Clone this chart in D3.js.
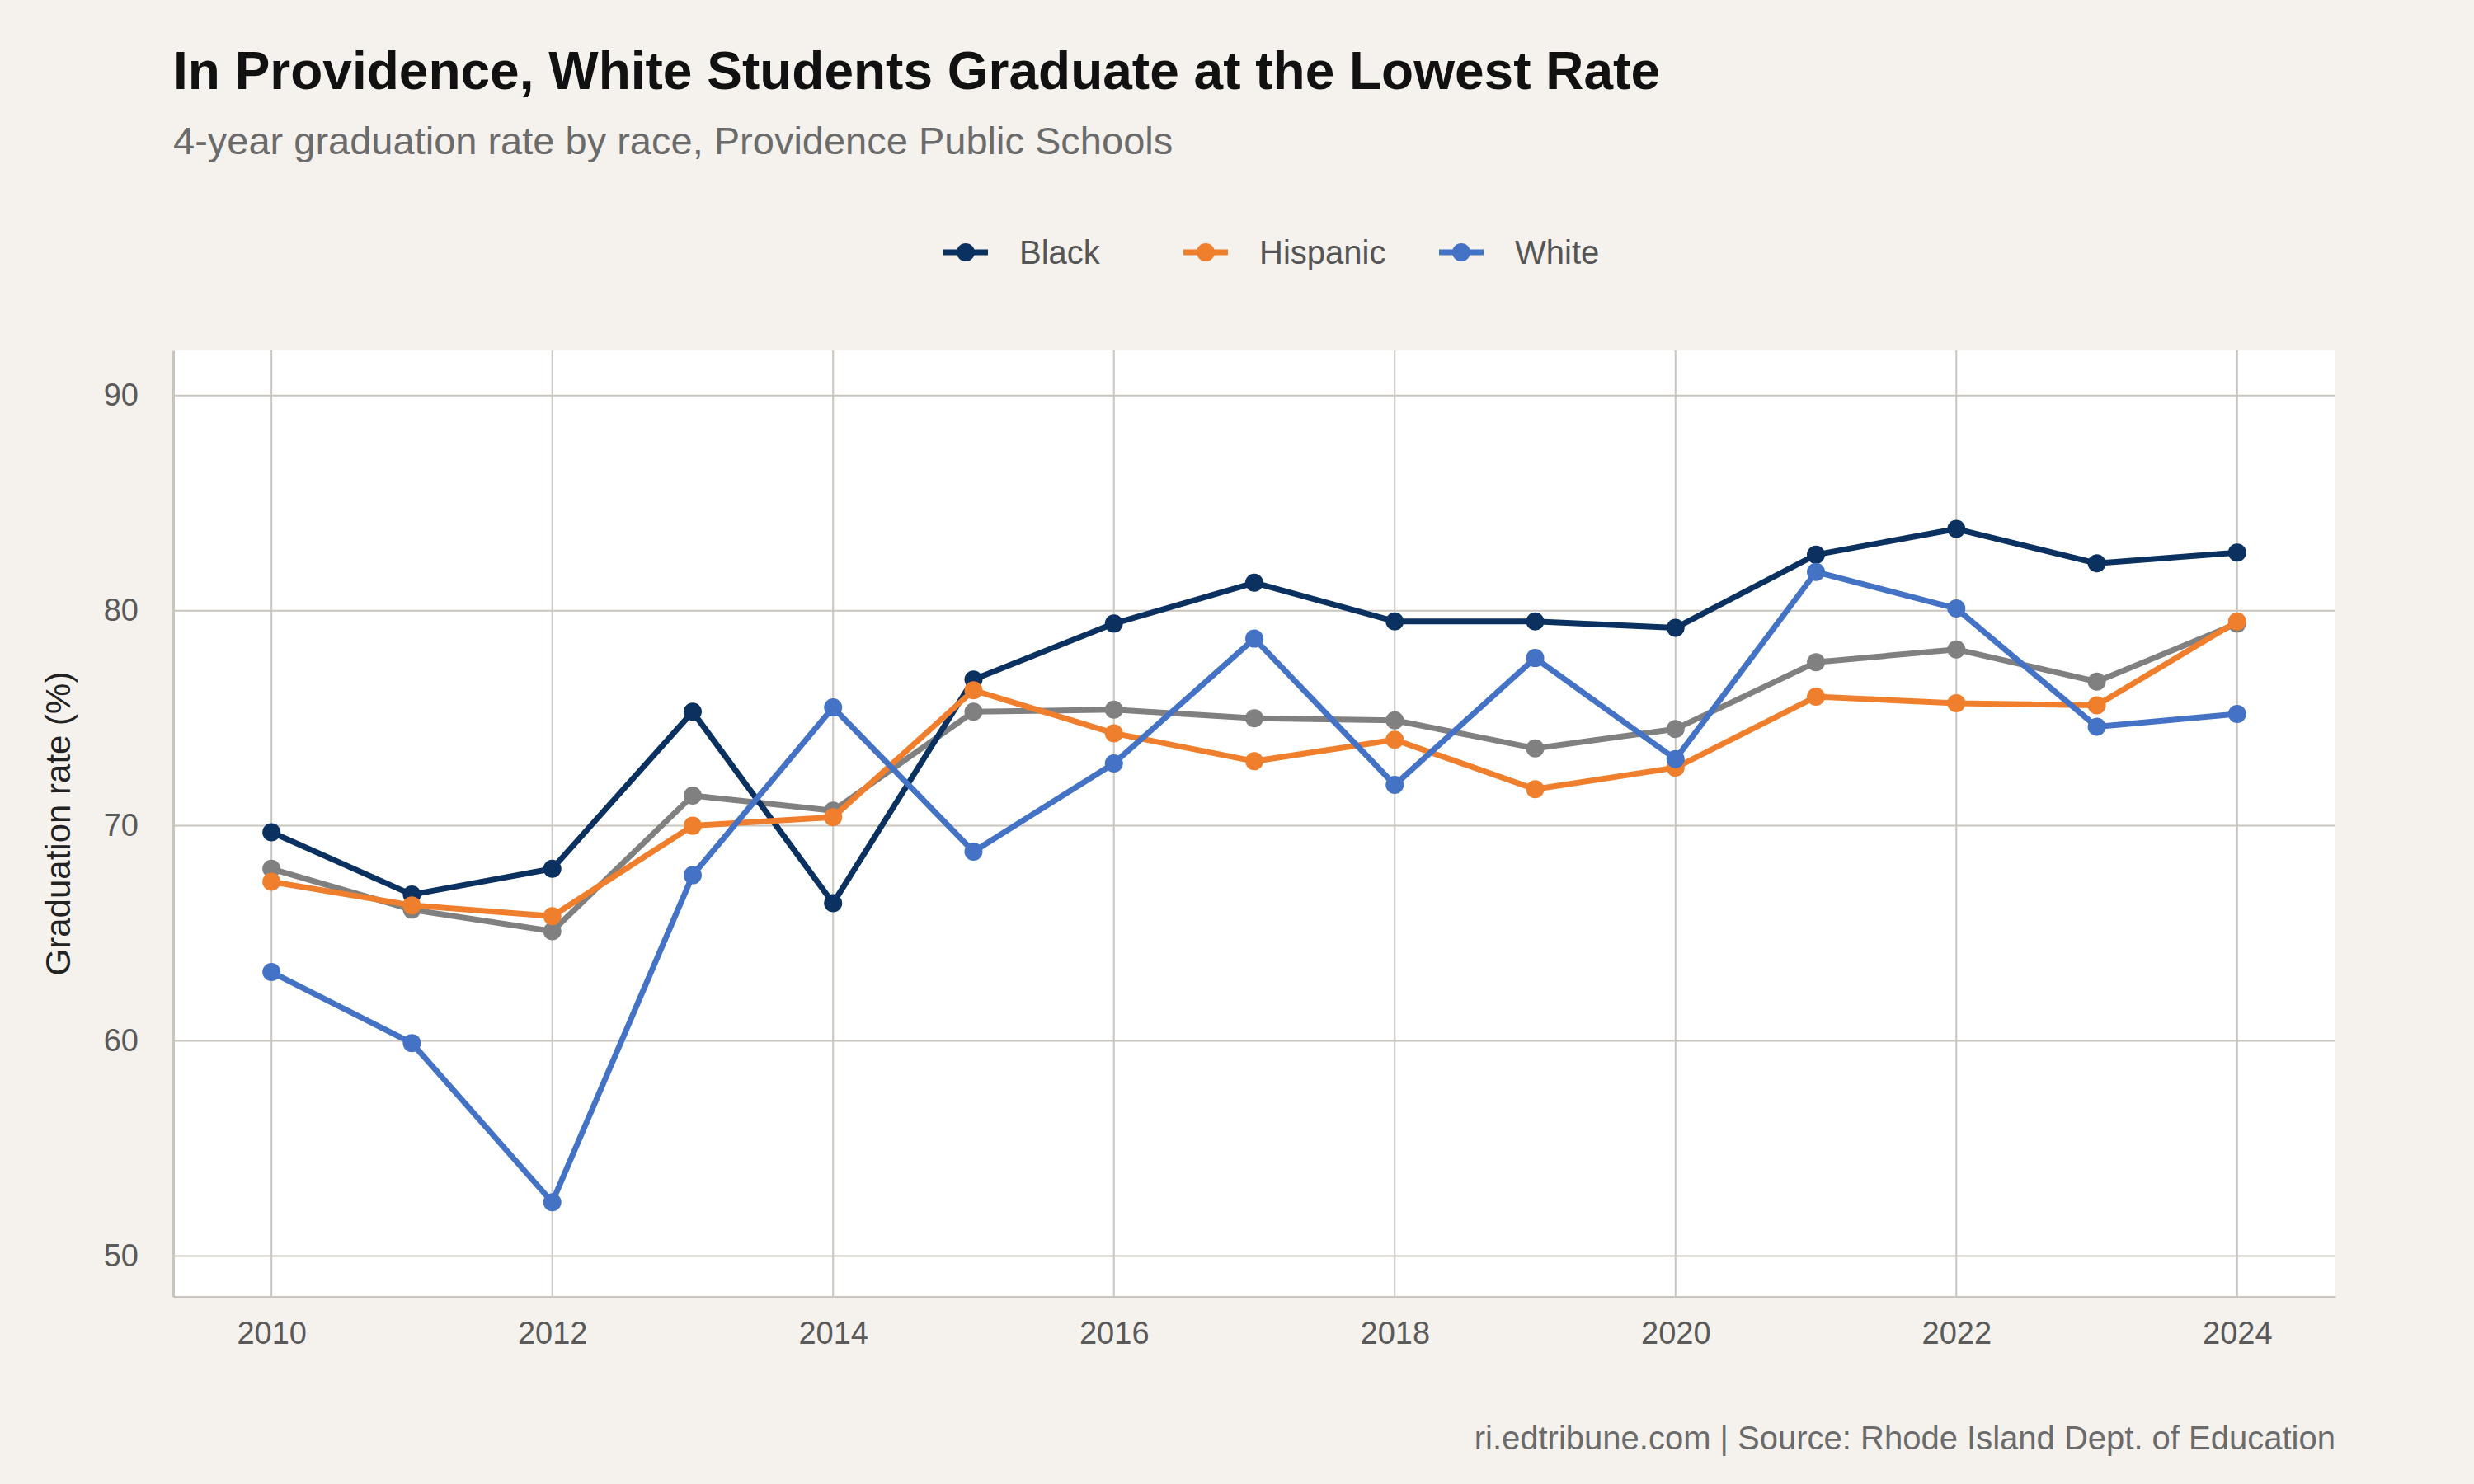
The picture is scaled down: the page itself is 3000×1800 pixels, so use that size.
<!DOCTYPE html>
<html><head><meta charset="utf-8">
<script src="https://cdn.jsdelivr.net/npm/d3@7"></script>
<style>body{margin:0;background:#f5f2ee;font-family:"Liberation Sans",Arial,sans-serif;}</style>
</head><body>
<svg id="c" width="3000" height="1800"></svg>
<script>
const years = d3.range(2010, 2025);
const black = [69.7, 66.8, 68.0, 75.3, 66.4, 76.8, 79.4, 81.3, 79.5, 79.5, 79.2, 82.6, 83.8, 82.2, 82.7];
const hispanic = [67.4, 66.3, 65.8, 70.0, 70.4, 76.3, 74.3, 73.0, 74.0, 71.7, 72.7, 76.0, 75.7, 75.6, 79.5];
const white = [63.2, 59.9, 52.5, 67.7, 75.5, 68.8, 72.9, 78.7, 71.9, 77.8, 73.1, 81.8, 80.1, 74.6, 75.2];
const allStudents = [68.0, 66.1, 65.1, 71.4, 70.7, 75.3, 75.4, 75.0, 74.9, 73.6, 74.5, 77.6, 78.2, 76.7, 79.4];
const xTicks = [2010, 2012, 2014, 2016, 2018, 2020, 2022, 2024];
const yTicks = [50, 60, 70, 80, 90];

const series = [
  { name: "All", values: allStudents, color: "#808080", legend: false },
  { name: "Black", values: black, color: "#0b3161", legend: true },
  { name: "Hispanic", values: hispanic, color: "#f07f2d", legend: true },
  { name: "White", values: white, color: "#4472c4", legend: true },
];

const panel = { left: 210, right: 2832, top: 425, bottom: 1573 };
const svg = d3.select("#c");

const x = d3.scaleLinear().domain([2009.3, 2024.7]).range([panel.left, panel.right]);
const y = d3.scaleLinear().domain([48.1, 92.1]).range([panel.bottom, panel.top]);

svg.append("rect").attr("x", panel.left).attr("y", panel.top)
  .attr("width", panel.right - panel.left).attr("height", panel.bottom - panel.top).attr("fill", "#fff");

// grid
const grid = svg.append("g").attr("stroke", "#c9c5bf").attr("stroke-width", 2);
grid.selectAll(".gx").data(xTicks).join("line")
  .attr("x1", d => x(d)).attr("x2", d => x(d)).attr("y1", panel.top).attr("y2", panel.bottom);
grid.selectAll(".gy").data(yTicks).join("line")
  .attr("y1", d => y(d)).attr("y2", d => y(d)).attr("x1", panel.left).attr("x2", panel.right);

// axes
const xAxis = svg.append("g").attr("transform", `translate(0,${panel.bottom})`)
  .call(d3.axisBottom(x).tickValues(xTicks).tickFormat(d3.format("d")).tickSize(0).tickPadding(30));
const yAxis = svg.append("g").attr("transform", `translate(${panel.left},0)`)
  .call(d3.axisLeft(y).tickValues(yTicks).tickSize(0).tickPadding(42));
[xAxis, yAxis].forEach(a => {
  a.select(".domain").attr("stroke", "#c9c5bf").attr("stroke-width", 3);
  a.selectAll("text").attr("font-size", 38).attr("fill", "#5a5a5a").attr("font-family", "Liberation Sans, Arial");
});

// lines
const line = d3.line().x((d, i) => x(years[i])).y(d => y(d));
series.forEach(s => {
  const g = svg.append("g");
  g.append("path").attr("d", line(s.values)).attr("fill", "none")
    .attr("stroke", s.color).attr("stroke-width", 7).attr("stroke-linejoin", "round");
  g.selectAll("circle").data(s.values).join("circle")
    .attr("cx", (d, i) => x(years[i])).attr("cy", d => y(d)).attr("r", 11).attr("fill", s.color);
});

// titles
svg.append("text").attr("x", 210).attr("y", 108).attr("font-size", 64).attr("font-weight", "bold")
  .attr("fill", "#111").text("In Providence, White Students Graduate at the Lowest Rate");
svg.append("text").attr("x", 210).attr("y", 187).attr("font-size", 47).attr("fill", "#6b6b6b")
  .text("4-year graduation rate by race, Providence Public Schools");
svg.append("text").attr("transform", "translate(85,999) rotate(-90)").attr("text-anchor", "middle")
  .attr("font-size", 42).attr("fill", "#222").text("Graduation rate (%)");
svg.append("text").attr("x", 2832).attr("y", 1758).attr("text-anchor", "end")
  .attr("font-size", 40).attr("fill", "#6b6b6b")
  .text("ri.edtribune.com | Source: Rhode Island Dept. of Education");

// legend
const legendX = [1144, 1435, 1745];
const lg = svg.append("g");
series.filter(s => s.legend).forEach((s, i) => {
  const lx = legendX[i], ly = 306;
  lg.append("line").attr("x1", lx).attr("x2", lx + 54).attr("y1", ly).attr("y2", ly)
    .attr("stroke", s.color).attr("stroke-width", 7);
  lg.append("circle").attr("cx", lx + 27).attr("cy", ly).attr("r", 11).attr("fill", s.color);
  lg.append("text").attr("x", lx + 92).attr("y", ly + 14).attr("font-size", 40).attr("fill", "#555").text(s.name);
});
</script>
</body></html>
